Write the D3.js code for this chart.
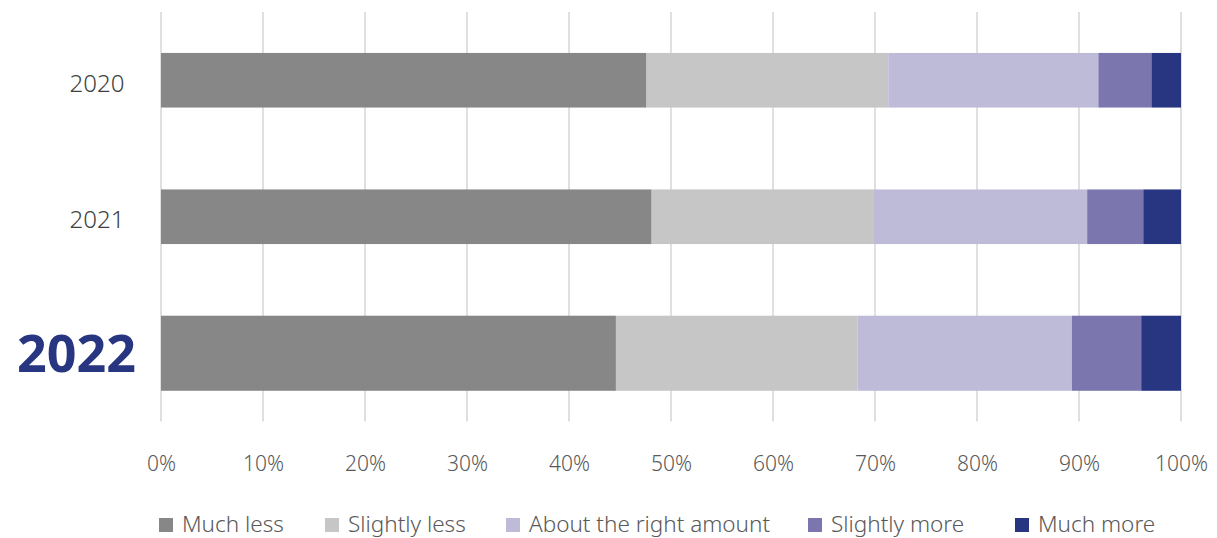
<!DOCTYPE html>
<html>
<head>
<meta charset="utf-8">
<script src="https://cdn.jsdelivr.net/npm/d3@7"></script>
<style>
  html, body { margin: 0; padding: 0; background: #fff; }
  svg { display: block; font-family: "Noto Sans", "DejaVu Sans", sans-serif; }
</style>
</head>
<body>
<svg id="chart" width="1217" height="538"></svg>
<script>
// Survey years and answer categories
const years = ["2020", "2021", "2022"];
const categories = ["Much less", "Slightly less", "About the right amount", "Slightly more", "Much more"];

// Share of respondents per answer (%), one value per year
const muchLess     = [47.6, 48.1, 44.6];
const slightlyLess = [23.7, 21.8, 23.7];
const aboutRight   = [20.6, 20.9, 21.0];
const slightlyMore = [5.2, 5.5, 6.8];
const muchMore     = [2.9, 3.7, 3.9];

const tickValues = [0, 10, 20, 30, 40, 50, 60, 70, 80, 90, 100];

// Build rows for the stack layout
const seriesValues = [muchLess, slightlyLess, aboutRight, slightlyMore, muchMore];
const rows = years.map((y, i) => {
  const r = { year: y };
  categories.forEach((c, k) => { r[c] = seriesValues[k][i]; });
  return r;
});

const colors = ["#878787", "#c6c6c6", "#bebbd9", "#7b77ae", "#283580"];
const highlightYear = "2022";

const svg = d3.select("#chart");

const x = d3.scaleLinear().domain([0, 100]).range([161, 1181]);
const y = d3.scaleBand().domain(years).range([12, 421.5]).padding(0);
const color = d3.scaleOrdinal().domain(categories).range(colors);

const barH = d => (d === highlightYear ? y.bandwidth() * 0.55 : y.bandwidth() * 0.4);
const barY = d => y(d) + (y.bandwidth() - barH(d)) / 2;

// Vertical gridlines
svg.append("g")
  .selectAll("line")
  .data(tickValues)
  .join("line")
  .attr("x1", d => x(d)).attr("x2", d => x(d))
  .attr("y1", y.range()[0]).attr("y2", y.range()[1])
  .attr("stroke", "#d9d9d9")
  .attr("stroke-width", 1.6);

// Stacked bars
const stacked = d3.stack().keys(categories)(rows);
svg.append("g")
  .selectAll("g")
  .data(stacked)
  .join("g")
  .attr("fill", d => color(d.key))
  .selectAll("rect")
  .data(d => d)
  .join("rect")
  .attr("x", d => x(d[0]))
  .attr("width", d => x(d[1]) - x(d[0]))
  .attr("y", d => barY(d.data.year))
  .attr("height", d => barH(d.data.year));

// X axis tick labels
const xAxis = d3.axisBottom(x)
  .tickValues(tickValues)
  .tickFormat(d => d + "%")
  .tickSize(0)
  .tickPadding(0);
const gx = svg.append("g").attr("transform", "translate(0,456)").call(xAxis);
gx.select(".domain").remove();
gx.selectAll("text")
  .attr("dy", "0.71em")
  .attr("font-family", "\"Noto Sans\", sans-serif")
  .attr("font-size", 21)
  .attr("font-weight", 300)
  .attr("fill", "#595959");

// Year labels
svg.append("g")
  .selectAll("text")
  .data(years)
  .join("text")
  .attr("x", d => (d === highlightYear ? 136 : 97))
  .attr("y", d => y(d) + y.bandwidth() / 2 + (d === highlightYear ? 0 : 3))
  .attr("dy", "0.36em")
  .attr("text-anchor", d => (d === highlightYear ? "end" : "middle"))
  .attr("font-size", d => (d === highlightYear ? 52 : 24))
  .attr("font-weight", d => (d === highlightYear ? 700 : 300))
  .attr("fill", d => (d === highlightYear ? "#283580" : "#404040"))
  .text(d => d);

// Legend
const legendX = [159, 325, 506, 808, 1015];
const legend = svg.append("g")
  .selectAll("g")
  .data(categories)
  .join("g")
  .attr("transform", (d, i) => `translate(${legendX[i]},518)`);
legend.append("rect")
  .attr("width", 14).attr("height", 14)
  .attr("fill", d => color(d));
legend.append("text")
  .attr("x", 23)
  .attr("y", 14)
  .attr("font-size", 22.5)
  .attr("font-weight", 300)
  .attr("fill", "#595959")
  .text(d => d);
</script>
</body>
</html>
